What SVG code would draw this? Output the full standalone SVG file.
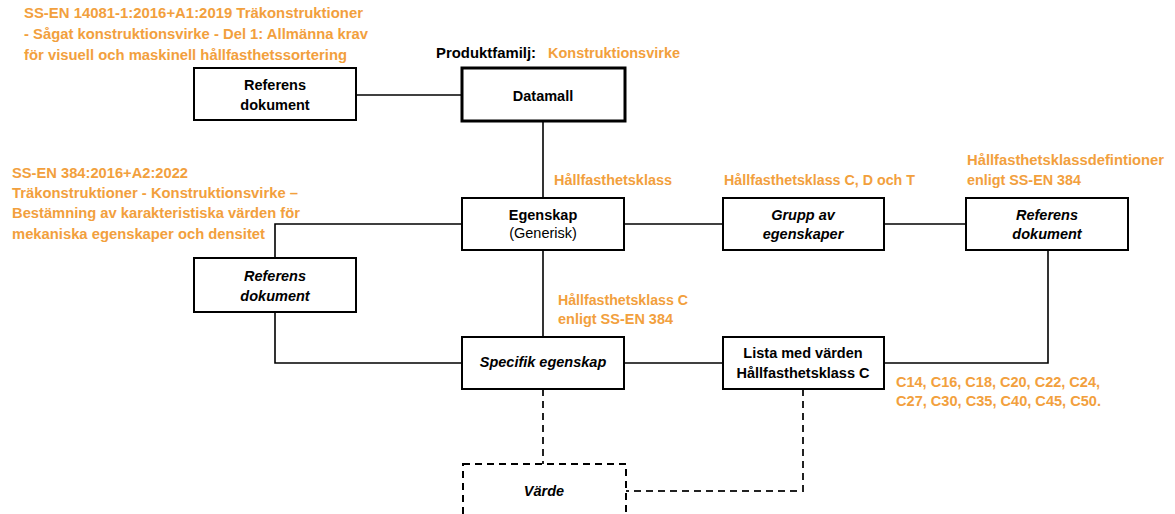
<svg xmlns="http://www.w3.org/2000/svg" width="1175" height="514" viewBox="0 0 1175 514">
  <style>
    .box { fill: #ffffff; stroke: #000000; stroke-width: 2; }
    .box-main { fill: #ffffff; stroke: #000000; stroke-width: 3; }
    .box-dash { fill: #ffffff; stroke: #000000; stroke-width: 2; stroke-dasharray: 7 5; }
    .wire { fill: none; stroke: #000000; stroke-width: 1.6; }
    .wire-dash { fill: none; stroke: #222222; stroke-width: 2; stroke-dasharray: 7 5; }
    .lbl { font-family: "Liberation Sans", Arial, sans-serif; font-size: 14.5px; font-weight: bold; fill: #000000; text-anchor: middle; }
    .lbl-i { font-style: italic; }
    .lbl-r { font-weight: normal; }
    .note { font-family: "Liberation Sans", Arial, sans-serif; font-size: 14.5px; font-weight: bold; fill: #F2A03D; }
    .head { font-family: "Liberation Sans", Arial, sans-serif; font-size: 14.5px; font-weight: bold; fill: #000000; }
  </style>

  <!-- connectors -->
  <g id="connectors">
    <line class="wire" x1="356" y1="95" x2="462" y2="95"/>
    <line class="wire" x1="543" y1="121" x2="543" y2="198"/>
    <polyline class="wire" points="275,258 275,224 462,224"/>
    <line class="wire" x1="624" y1="224" x2="723" y2="224"/>
    <line class="wire" x1="884" y1="224" x2="966" y2="224"/>
    <line class="wire" x1="543" y1="250" x2="543" y2="337"/>
    <polyline class="wire" points="275,312 275,363 462,363"/>
    <line class="wire" x1="624" y1="363" x2="723" y2="363"/>
    <polyline class="wire" points="1048,250 1048,363 884,363"/>
    <line class="wire-dash" x1="543" y1="389" x2="543" y2="464"/>
    <polyline class="wire-dash" points="803,389 803,491 626,491"/>
  </g>

  <!-- reference notes -->
  <g id="notes">
    <text class="note" x="24" y="18" textLength="339" lengthAdjust="spacingAndGlyphs">SS-EN 14081-1:2016+A1:2019 Träkonstruktioner</text>
    <text class="note" x="24" y="39" textLength="344" lengthAdjust="spacingAndGlyphs">- Sågat konstruktionsvirke - Del 1: Allmänna krav</text>
    <text class="note" x="24" y="60" textLength="323" lengthAdjust="spacingAndGlyphs">för visuell och maskinell hållfasthetssortering</text>

    <text class="head" x="436" y="58" textLength="100" lengthAdjust="spacingAndGlyphs">Produktfamilj:</text>
    <text class="note" x="548" y="58" textLength="132" lengthAdjust="spacingAndGlyphs">Konstruktionsvirke</text>

    <text class="note" x="12" y="178" textLength="176" lengthAdjust="spacingAndGlyphs">SS-EN 384:2016+A2:2022</text>
    <text class="note" x="12" y="198" textLength="286" lengthAdjust="spacingAndGlyphs">Träkonstruktioner - Konstruktionsvirke –</text>
    <text class="note" x="12" y="218" textLength="288" lengthAdjust="spacingAndGlyphs">Bestämning av karakteristiska värden för</text>
    <text class="note" x="12" y="239" textLength="253" lengthAdjust="spacingAndGlyphs">mekaniska egenskaper och densitet</text>

    <text class="note" x="554" y="185" textLength="118" lengthAdjust="spacingAndGlyphs">Hållfasthetsklass</text>
    <text class="note" x="724" y="185" textLength="191" lengthAdjust="spacingAndGlyphs">Hållfasthetsklass C, D och T</text>

    <text class="note" x="967" y="165" textLength="197" lengthAdjust="spacingAndGlyphs">Hållfasthetsklassdefintioner</text>
    <text class="note" x="967" y="185" textLength="114" lengthAdjust="spacingAndGlyphs">enligt SS-EN 384</text>

    <text class="note" x="558" y="305" textLength="130" lengthAdjust="spacingAndGlyphs">Hållfasthetsklass C</text>
    <text class="note" x="558" y="324" textLength="115" lengthAdjust="spacingAndGlyphs">enligt SS-EN 384</text>

    <text class="note" x="896" y="387" textLength="204" lengthAdjust="spacingAndGlyphs">C14, C16, C18, C20, C22, C24,</text>
    <text class="note" x="896" y="406" textLength="205" lengthAdjust="spacingAndGlyphs">C27, C30, C35, C40, C45, C50.</text>
  </g>

  <!-- nodes -->
  <g id="ref-top">
    <rect class="box" x="194" y="68" width="162" height="52"/>
    <text class="lbl" x="275" y="90">Referens</text>
    <text class="lbl" x="275" y="110">dokument</text>
  </g>

  <g id="datamall">
    <rect class="box-main" x="462" y="68" width="163" height="53"/>
    <text class="lbl" x="543" y="101">Datamall</text>
  </g>

  <g id="egenskap">
    <rect class="box" x="462" y="198" width="162" height="52"/>
    <text class="lbl" x="543" y="220">Egenskap</text>
    <text class="lbl lbl-r" x="543" y="238">(Generisk)</text>
  </g>

  <g id="grupp">
    <rect class="box" x="723" y="198" width="161" height="52"/>
    <text class="lbl lbl-i" x="803" y="220">Grupp av</text>
    <text class="lbl lbl-i" x="803" y="239">egenskaper</text>
  </g>

  <g id="ref-right">
    <rect class="box" x="966" y="198" width="162" height="52"/>
    <text class="lbl lbl-i" x="1047" y="220">Referens</text>
    <text class="lbl lbl-i" x="1047" y="239">dokument</text>
  </g>

  <g id="ref-left">
    <rect class="box" x="194" y="258" width="162" height="54"/>
    <text class="lbl lbl-i" x="275" y="281">Referens</text>
    <text class="lbl lbl-i" x="275" y="301">dokument</text>
  </g>

  <g id="specifik">
    <rect class="box" x="462" y="337" width="162" height="52"/>
    <text class="lbl lbl-i" x="543" y="367">Specifik egenskap</text>
  </g>

  <g id="lista">
    <rect class="box" x="723" y="337" width="161" height="52"/>
    <text class="lbl" x="803" y="358">Lista med värden</text>
    <text class="lbl" x="803" y="378">Hållfasthetsklass C</text>
  </g>

  <g id="varde">
    <rect class="box-dash" x="463" y="464" width="163" height="60"/>
    <text class="lbl lbl-i" x="544" y="496">Värde</text>
  </g>
</svg>
